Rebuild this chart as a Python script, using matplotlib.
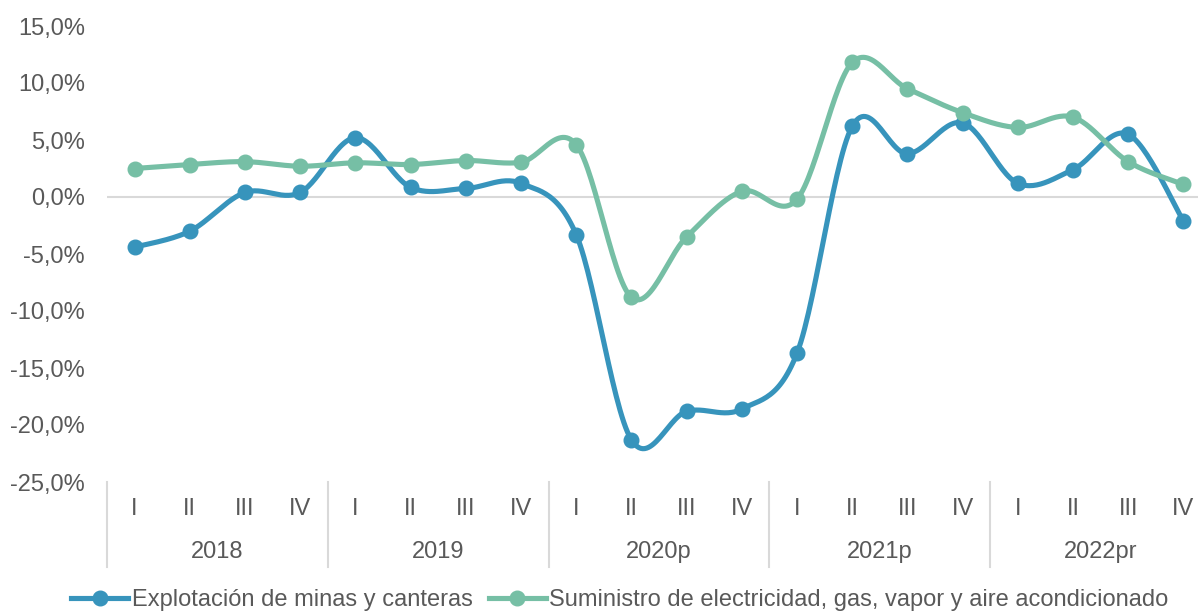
import numpy as np
import matplotlib
matplotlib.use("Agg")
import matplotlib.pyplot as plt
from matplotlib.lines import Line2D

plt.rcParams['font.family'] = ['Liberation Sans', 'DejaVu Sans']

# data (annual variation, %)
years = ["2018", "2019", "2020p", "2021p", "2022pr"]
quarters = ["I", "II", "III", "IV"]
minas = [-4.4, -3.0, 0.4, 0.4,
         5.2, 0.85, 0.75, 1.2,
         -3.3, -21.3, -18.8, -18.6,
         -13.7, 6.2, 3.8, 6.5,
         1.2, 2.4, 5.5, -2.1]
electricidad = [2.5, 2.85, 3.1, 2.7,
                3.0, 2.85, 3.2, 3.05,
                4.6, -8.8, -3.5, 0.5,
                -0.2, 11.8, 9.5, 7.4,
                6.1, 7.0, 3.1, 1.1]
series_names = ["Explotación de minas y canteras",
                "Suministro de electricidad, gas, vapor y aire acondicionado"]
colors = ["#3794BC", "#76BFA5"]
text_color = "#595959"
fs = 17


def smooth(x, y, n=30):
    # Excel-like smoothed line (Catmull-Rom style bezier)
    x = np.asarray(x, float)
    y = np.asarray(y, float)
    px = np.concatenate([[x[0]], x, [x[-1]]])
    py = np.concatenate([[y[0]], y, [y[-1]]])
    xs, ys = [], []
    t = np.linspace(0, 1, n)
    for i in range(1, len(px) - 2):
        p0 = np.array([px[i], py[i]])
        p3 = np.array([px[i + 1], py[i + 1]])
        c1 = p0 + (np.array([px[i + 1], py[i + 1]]) - np.array([px[i - 1], py[i - 1]])) / 6
        c2 = p3 - (np.array([px[i + 2], py[i + 2]]) - np.array([px[i], py[i]])) / 6
        b = (np.outer((1 - t) ** 3, p0) + np.outer(3 * (1 - t) ** 2 * t, c1)
             + np.outer(3 * (1 - t) * t ** 2, c2) + np.outer(t ** 3, p3))
        xs.extend(b[:, 0])
        ys.extend(b[:, 1])
    return np.array(xs), np.array(ys)


fig = plt.figure(figsize=(11.98, 6.12), dpi=100)
ax = fig.add_axes([107 / 1198, (612 - 482) / 612, (1211 - 107) / 1198, (482 - 26) / 612])

n = len(minas)
x = np.arange(n) + 0.5
ax.axhline(0, color="#D9D9D9", lw=1.5, zorder=1)

for vals, c in zip([minas, electricidad], colors):
    sx, sy = smooth(x, vals)
    ax.plot(sx, sy, color=c, lw=3.7, solid_capstyle='round', zorder=3)
    ax.plot(x, vals, 'o', color=c, ms=10.5, zorder=4)

ax.set_xlim(0, n)
ax.set_ylim(-25, 15)
ax.set_yticks(np.arange(-25, 16, 5))
ax.set_yticklabels([f"{v:.1f}%".replace(".", ",") for v in np.arange(-25, 16, 5)])
ax.tick_params(axis='y', length=0, pad=16, labelsize=fs, labelcolor=text_color)
ax.set_xticks([])
for s in ax.spines.values():
    s.set_visible(False)

trans = ax.get_xaxis_transform()
px_h = 1 / (482 - 26)
for i in range(len(years) + 1):
    ax.plot([i * 4, i * 4], [0, -85 * px_h], color="#D9D9D9", lw=1.5,
            transform=trans, clip_on=False)
for i, q in enumerate(quarters * len(years)):
    ax.text(i + 0.5, -27 * px_h, q, transform=trans, ha='center', va='center',
            fontsize=fs, color=text_color)
for j, yr in enumerate(years):
    ax.text(j * 4 + 2, -70 * px_h, yr, transform=trans, ha='center', va='center',
            fontsize=fs, color=text_color)

handles = [Line2D([], [], color=c, lw=3.7, marker='o', ms=10.5) for c in colors]
fig.legend(handles, series_names, loc='center', bbox_to_anchor=(620 / 1198, 1 - 600 / 612),
           ncol=2, frameon=False, fontsize=fs, labelcolor=text_color,
           handlelength=2.4, handletextpad=0.15, columnspacing=0.7, borderpad=0)

fig.savefig("out.png", dpi=100)
